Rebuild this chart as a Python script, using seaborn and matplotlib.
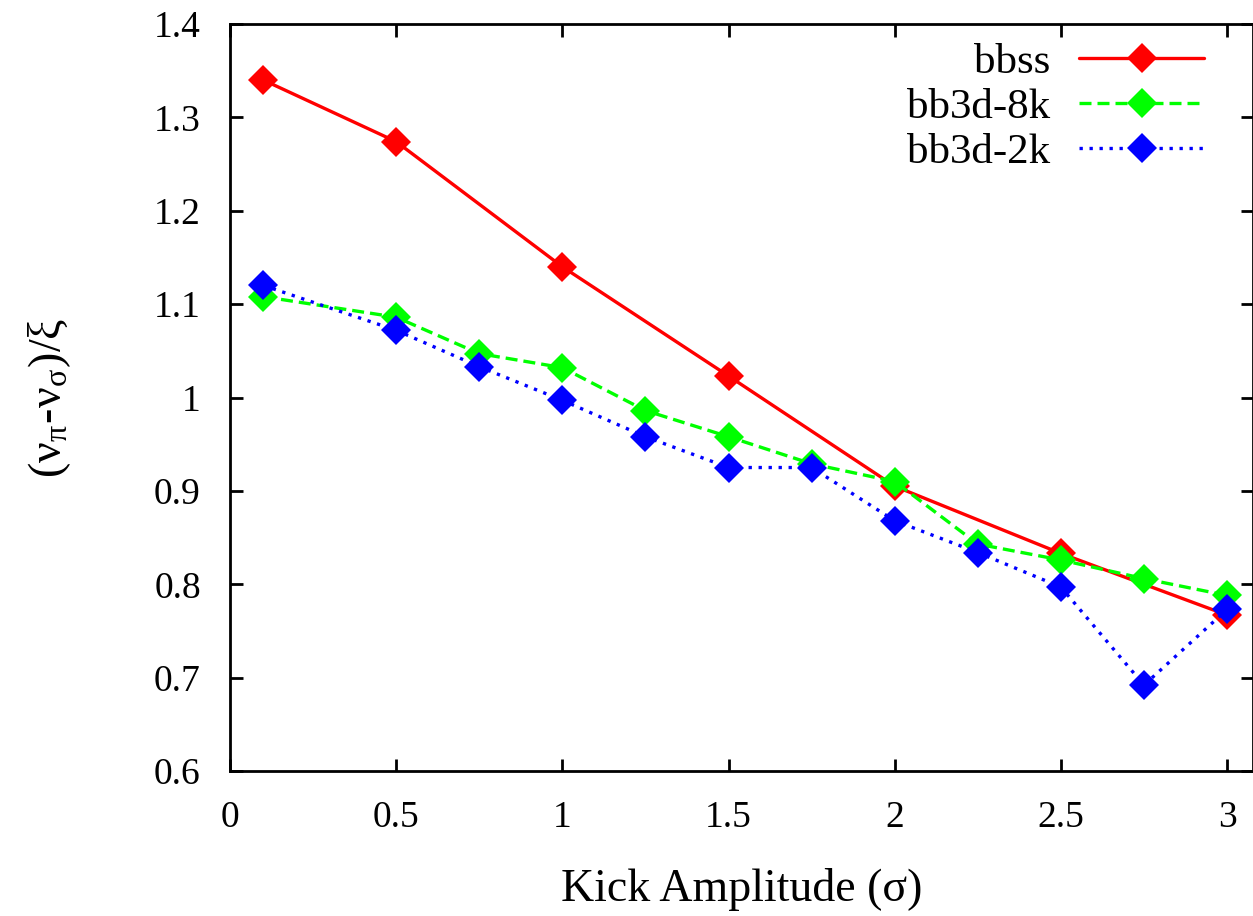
import numpy as np
import pandas as pd
import matplotlib
matplotlib.use('Agg')
import matplotlib.pyplot as plt
import seaborn as sns

# data
x_bbss = [0.1, 0.5, 1.0, 1.5, 2.0, 2.5, 3.0]
y_bbss = [1.340, 1.274, 1.140, 1.023, 0.905, 0.833, 0.767]

x_bb3d = [0.1, 0.5, 0.75, 1.0, 1.25, 1.5, 1.75, 2.0, 2.25, 2.5, 2.75, 3.0]
y_8k = [1.108, 1.086, 1.047, 1.032, 0.986, 0.958, 0.929, 0.910, 0.843, 0.826, 0.806, 0.788]
y_2k = [1.120, 1.072, 1.033, 0.997, 0.958, 0.925, 0.925, 0.868, 0.834, 0.797, 0.692, 0.773]

labels = ['bbss', 'bb3d-8k', 'bb3d-2k']
colors = ['#ff0000', '#00ff00', '#0000ff']

df = pd.concat([
    pd.DataFrame({'x': x_bbss, 'y': y_bbss, 'run': labels[0]}),
    pd.DataFrame({'x': x_bb3d, 'y': y_8k, 'run': labels[1]}),
    pd.DataFrame({'x': x_bb3d, 'y': y_2k, 'run': labels[2]}),
], ignore_index=True)

sns.set_style('ticks')
plt.rcParams['font.family'] = ['Liberation Serif', 'DejaVu Serif']
plt.rcParams['mathtext.fontset'] = 'stix'
for k in ['text.color', 'axes.labelcolor', 'xtick.color', 'ytick.color', 'axes.edgecolor']:
    plt.rcParams[k] = 'black'

fig = plt.figure(figsize=(12.53, 9.16), dpi=100)
ax = fig.add_axes([230 / 1253, 1 - 771 / 916, (1253 - 230) / 1253, (771 - 24) / 916])

sns.lineplot(data=df, x='x', y='y', hue='run', style='run',
             hue_order=labels, style_order=labels,
             palette=dict(zip(labels, colors)),
             dashes={'bbss': '', 'bb3d-8k': (3.6, 1.8), 'bb3d-2k': (1, 2)},
             markers={'bbss': 'D', 'bb3d-8k': 'D', 'bb3d-2k': 'D'},
             markersize=15, markeredgewidth=0, linewidth=2.4,
             sort=False, ax=ax)

ax.set_xlim(0, 3.078)
ax.set_ylim(0.6, 1.4)
ax.set_xticks([0, 0.5, 1, 1.5, 2, 2.5, 3])
ax.set_xticklabels(['0', '0.5', '1', '1.5', '2', '2.5', '3'])
ax.set_yticks(np.arange(0.6, 1.41, 0.1))
ax.set_yticklabels(['0.6', '0.7', '0.8', '0.9', '1', '1.1', '1.2', '1.3', '1.4'])
ax.tick_params(direction='in', length=9, width=2, labelsize=27,
               top=True, right=True, pad=21)
for s in ax.spines.values():
    s.set_linewidth(2)

ax.set_xlabel('Kick Amplitude (σ)', fontsize=33, labelpad=24)
ax.set_ylabel(r'(ν$_{\mathregular{π}}$-ν$_{\mathregular{σ}}$)/ξ', fontsize=33, labelpad=58)

leg = ax.legend(loc='upper right', frameon=False, markerfirst=False,
                fontsize=31, handlelength=2.9, handletextpad=0.68,
                labelspacing=0.14, borderpad=0, borderaxespad=0,
                bbox_to_anchor=(1204 / 1253, 1 - 43 / 916),
                bbox_transform=fig.transFigure)

fig.savefig('out.png', dpi=100)
